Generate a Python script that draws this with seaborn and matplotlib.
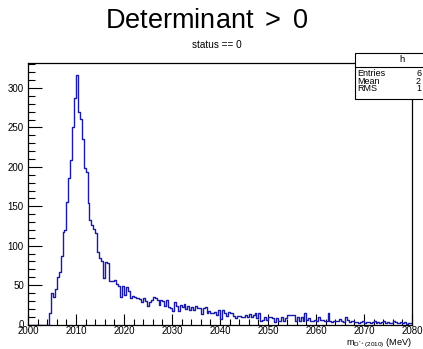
import numpy as np
import pandas as pd
import seaborn as sns
import matplotlib.pyplot as plt
from matplotlib.ticker import MultipleLocator
from matplotlib.patches import Rectangle
from matplotlib.lines import Line2D

# ---- data (bin contents, 0.4 MeV bins from 2000 to 2080) ----
zeros_low = [0] * 11
rise = [15, 40, 35, 45, 60, 67, 87, 118, 120, 155, 186, 209, 250, 288, 316]
falloff = [269, 261, 236, 198, 193, 154, 133, 126, 121, 116,
           92, 85, 80, 59, 79, 78, 55, 55, 55, 57,
           52, 49, 35, 49, 38, 48, 43, 33, 36, 35,
           34, 33, 32, 28, 33, 30, 23, 28, 31, 35,
           33, 31, 25, 31, 30, 24, 31, 22, 21, 17,
           28, 23, 17]
mid = [25, 22, 26, 20, 24, 18, 22, 19, 23, 21]
tail = [21, 13, 21, 22, 15, 17, 15, 14, 16, 12, 18,
        7, 18, 14, 11, 16, 14, 14, 11, 8, 11, 11, 10,
        10, 12, 10, 13, 9, 12, 14, 8, 14, 5, 6, 9,
        6, 10, 10, 8, 3, 8, 5, 5, 9, 5, 8, 12, 12,
        12, 12, 5, 9, 5, 9, 5, 14, 6, 8, 4, 5,
        6, 4, 9, 6, 6, 4, 4, 15, 4, 3, 4, 4, 5,
        7, 4, 3, 10, 6, 3, 4, 5, 3, 3, 2, 3,
        4, 2, 3, 3, 2, 3, 5, 2, 3, 2, 3, 4, 2,
        3, 2, 2, 4, 3, 2, 2, 3, 2, 3, 1, 2, 2]
counts = zeros_low + rise + falloff + mid + tail

x_lo, x_hi = 2000, 2080
x_major = [2000, 2010, 2020, 2030, 2040, 2050, 2060, 2070, 2080]
y_major = [0, 50, 100, 150, 200, 250, 300]
title = "Determinant $>$ 0"
subtitle = "status == 0"
xlabel = r"$\mathrm{m}_{\mathrm{D}^{*+}(2010)}$ (MeV)"
stats_name = "h"
stats_rows = ["Entries", "Mean", "RMS"]
stats_vals = ["6", "2", "1"]

n_bins = len(counts)
width = (x_hi - x_lo) / n_bins
centers = x_lo + (np.arange(n_bins) + 0.5) * width
df = pd.DataFrame({"m": centers, "n": counts})

sns.set_theme(style="ticks")
plt.rcParams['font.family'] = ['Liberation Sans', 'DejaVu Sans']
plt.rcParams['mathtext.fontset'] = 'custom'
plt.rcParams['mathtext.rm'] = 'Liberation Sans'
plt.rcParams['mathtext.it'] = 'Liberation Sans:italic'
plt.rcParams['text.color'] = 'black'

W, H = 423, 349
fig = plt.figure(figsize=(W / 100, H / 100), dpi=100)
L, R, T, B = 28, 412, 63, 324.5
ax = fig.add_axes([L / W, 1 - B / H, (R - L) / W, (B - T) / H])

sns.histplot(data=df, x="m", weights="n", bins=n_bins, binrange=(x_lo, x_hi),
             element="step", fill=False, color="#1a1aa8", linewidth=1.0, ax=ax)

ax.set_xlim(x_lo, x_hi)
ax.set_ylim(0, max(counts) * 1.05)
ax.set_xticks(x_major)
ax.set_yticks(y_major)
ax.xaxis.set_minor_locator(MultipleLocator(2))
ax.yaxis.set_minor_locator(MultipleLocator(10))
ax.tick_params(which="both", direction="in", top=False, right=False,
               width=0.8, color="black", labelsize=7, labelcolor="black")
ax.tick_params(axis="y", which="major", length=10, pad=3)
ax.tick_params(axis="y", which="minor", length=5)
ax.tick_params(axis="x", which="major", length=8, pad=1)
ax.tick_params(axis="x", which="minor", length=4)
ax.set_xlabel("")
ax.set_ylabel("")
for s in ax.spines.values():
    s.set_color("black")
    s.set_linewidth(0.9)

fig.text(207 / W, 1 - 27.7 / H, title, ha="center", va="baseline",
         fontsize=19.5, color="black")
fig.text(217 / W, 1 - 47.7 / H, subtitle, ha="center", va="baseline",
         fontsize=7.2, color="black")
fig.text(R / W, 1 - 345 / H, xlabel, ha="right", va="baseline",
         fontsize=6.6, color="black")

# stats box
bx0, by0, by1 = 355, 53, 99
fig.patches.append(Rectangle((bx0 / W, 1 - by1 / H), (470 - bx0) / W, (by1 - by0) / H,
                             transform=fig.transFigure, facecolor="white",
                             edgecolor="black", linewidth=0.8, zorder=5))
fig.lines.append(Line2D([bx0 / W, 1.1], [1 - 67 / H, 1 - 67 / H],
                        transform=fig.transFigure, color="black", linewidth=0.8, zorder=6))
fig.text(402 / W, 1 - 60 / H, stats_name, ha="center", va="center",
         fontsize=6.8, zorder=7, color="black")
for i, (r, v) in enumerate(zip(stats_rows, stats_vals)):
    y = 1 - (73.3 + 7.7 * i) / H
    fig.text(357 / W, y, r, ha="left", va="center", fontsize=6.5, zorder=7, color="black")
    fig.text(416 / W, y, v, ha="left", va="center", fontsize=6.5, zorder=7, color="black")

fig.savefig("out.png", dpi=100)
